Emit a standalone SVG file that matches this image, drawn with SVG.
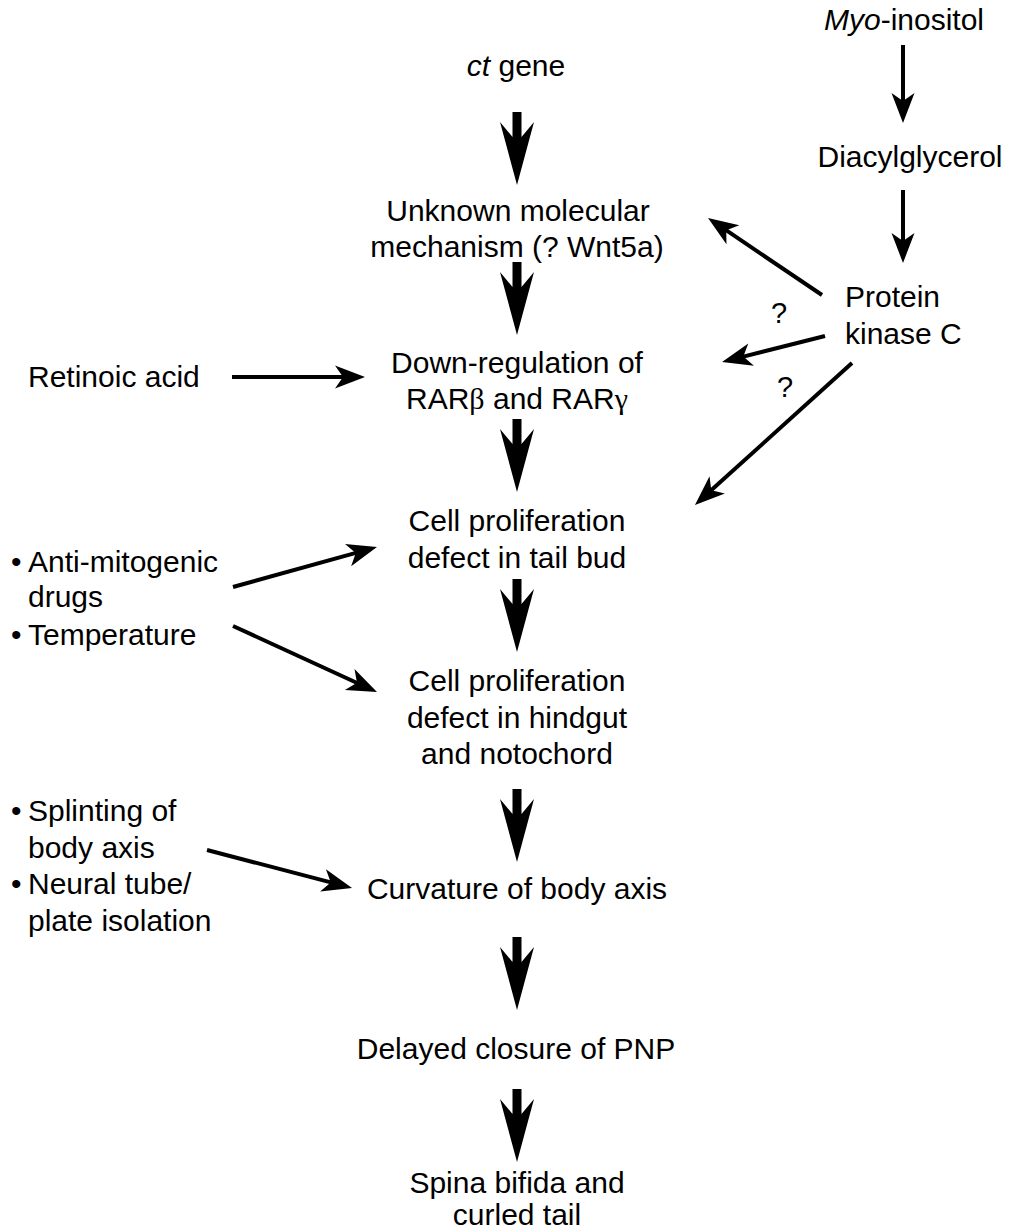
<svg xmlns="http://www.w3.org/2000/svg" xmlns:xlink="http://www.w3.org/1999/xlink" width="1019" height="1230" viewBox="0 0 1019 1230">
<style>
text{font-family:"Liberation Sans",Arial,Helvetica,sans-serif;font-size:30px;fill:#000}
.c{text-anchor:middle}
.q{font-size:29px;text-anchor:middle}
.g{font-family:"Liberation Serif","DejaVu Serif",serif}
.thin{stroke:#000;stroke-width:4;fill:none;marker-end:url(#ah)}
</style>
<defs>
<marker id="ah" markerUnits="userSpaceOnUse" markerWidth="30" markerHeight="24" viewBox="0 -12 30 24" refX="10" refY="0" orient="auto" overflow="visible">
<path d="M0,-11.5 L30,0 L0,11.5 L8,0 Z" fill="#000"/>
</marker>
<path id="thick" d="M-4.5,-73 H4.5 V-48 L17,-63 L0,0 L-17,-63 L-4.5,-48 Z" fill="#000"/>
</defs>
<rect width="1019" height="1230" fill="#fff"/>

<g id="connectors">
<use xlink:href="#thick" x="517" y="185"/>
<use xlink:href="#thick" x="517" y="335"/>
<use xlink:href="#thick" x="517" y="492"/>
<use xlink:href="#thick" x="517" y="652"/>
<use xlink:href="#thick" x="517" y="862"/>
<use xlink:href="#thick" x="517" y="1010"/>
<use xlink:href="#thick" x="517" y="1162"/>
<line class="thin" x1="903" y1="45" x2="903" y2="103"/>
<line class="thin" x1="903" y1="190" x2="903" y2="243"/>
<line class="thin" x1="822" y1="295" x2="724.6" y2="229.2"/>
<line class="thin" x1="825" y1="336" x2="741.4" y2="357.1"/>
<line class="thin" x1="852" y1="363" x2="709.8" y2="491.6"/>
<line class="thin" x1="232" y1="377" x2="345" y2="377"/>
<line class="thin" x1="233" y1="587" x2="357.7" y2="552.4"/>
<line class="thin" x1="233" y1="626" x2="358.8" y2="683.7"/>
<line class="thin" x1="207" y1="850" x2="332.7" y2="882.9"/>
<text class="q" x="779" y="323">?</text>
<text class="q" x="785" y="397">?</text>
</g>

<g id="myo-inositol"><text class="c" x="904" y="30"><tspan font-style="italic">Myo</tspan>-inositol</text></g>
<g id="ct-gene"><text class="c" x="516" y="76"><tspan font-style="italic">ct</tspan> gene</text></g>
<g id="diacylglycerol"><text class="c" x="910" y="167">Diacylglycerol</text></g>
<g id="unknown-mechanism">
<text class="c" x="518" y="221">Unknown molecular</text>
<text class="c" x="517" y="257">mechanism (? Wnt5a)</text>
</g>
<g id="pkc">
<text x="845" y="307">Protein</text>
<text x="845" y="344">kinase C</text>
</g>
<g id="retinoic-acid"><text x="28" y="387">Retinoic acid</text></g>
<g id="down-regulation">
<text class="c" x="517" y="373">Down-regulation of</text>
<text class="c" x="517" y="409">RAR<tspan class="g">β</tspan> and RAR<tspan class="g">γ</tspan></text>
</g>
<g id="prolif-tail-bud">
<text class="c" x="517" y="531">Cell proliferation</text>
<text class="c" x="517" y="568">defect in tail bud</text>
</g>
<g id="antimitogenic">
<text x="11" y="572">•</text><text x="28" y="572">Anti-mitogenic</text>
<text x="28" y="607">drugs</text>
<text x="11" y="645">•</text><text x="28" y="645">Temperature</text>
</g>
<g id="prolif-hindgut">
<text class="c" x="517" y="691">Cell proliferation</text>
<text class="c" x="517" y="728">defect in hindgut</text>
<text class="c" x="517" y="764">and notochord</text>
</g>
<g id="splinting">
<text x="11" y="821">•</text><text x="28" y="821">Splinting of</text>
<text x="28" y="858">body axis</text>
<text x="11" y="894">•</text><text x="28" y="894">Neural tube/</text>
<text x="28" y="931">plate isolation</text>
</g>
<g id="curvature"><text class="c" x="517" y="899">Curvature of body axis</text></g>
<g id="delayed-closure"><text class="c" x="516" y="1059">Delayed closure of PNP</text></g>
<g id="spina-bifida">
<text class="c" x="517" y="1193">Spina bifida and</text>
<text class="c" x="517" y="1225">curled tail</text>
</g>
</svg>
